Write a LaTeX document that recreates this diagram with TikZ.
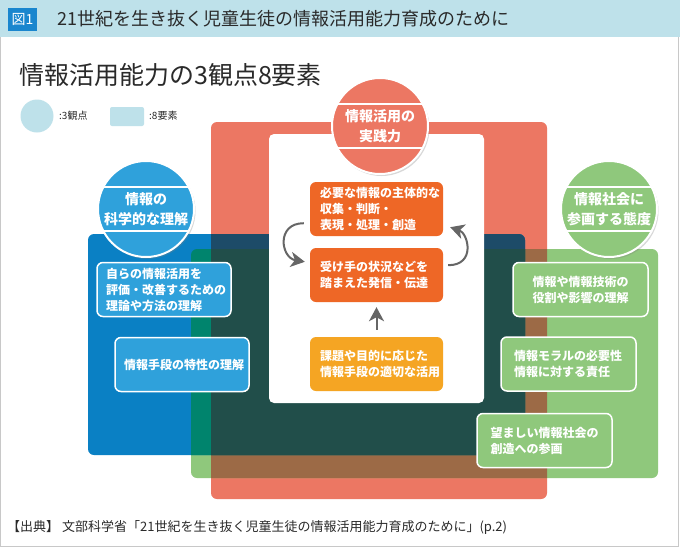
\documentclass[tikz,border=0pt]{standalone}
\usepackage{fontspec}
\setmainfont{Noto Sans CJK JP}
\usetikzlibrary{shadows,arrows.meta,calc}
\definecolor{hdr}{HTML}{BEE1EA}
\definecolor{fig}{HTML}{1A86CE}
\definecolor{txt}{HTML}{2A2A2A}
\definecolor{framec}{HTML}{C8C8C8}
\definecolor{cR}{HTML}{EC7763}
\definecolor{cB}{HTML}{0A80C4}
\definecolor{cG}{HTML}{8FC87C}
\definecolor{cRB}{HTML}{1D4B68}
\definecolor{cRG}{HTML}{9C6A46}
\definecolor{cBG}{HTML}{00846D}
\definecolor{cRBG}{HTML}{214E4A}
\definecolor{cLB}{HTML}{2FA1DB}
\definecolor{cOr}{HTML}{EE6726}
\definecolor{cYe}{HTML}{F5A523}
\definecolor{arrc}{HTML}{666666}
\begin{document}
\begin{tikzpicture}[x=1pt,y=-1pt,
  circ/.style={circle, minimum size=96pt, inner sep=0pt, draw=white, line width=2pt,
    text=white, font=\fontsize{14}{20}\selectfont\bfseries, align=center,
    drop shadow={shadow xshift=1.5pt,shadow yshift=-2pt,opacity=0.3}},
  box/.style={rounded corners=6pt, text=white, font=\fontsize{12}{16}\selectfont\bfseries,
    inner sep=0pt, minimum height=54pt},
  obox/.style={box, fill=cOr, minimum width=133pt, text width=113pt},
  ybox/.style={box, fill=cYe, minimum width=133pt, text width=113pt},
  bbox/.style={box, fill=cLB, draw=white, line width=1.5pt, minimum width=134pt},
  gbox/.style={box, fill=cG, draw=white, line width=1.5pt, minimum width=135pt},
  arr/.style={draw=arrc, line width=2pt, -{Stealth[length=14pt,width=15pt,inset=4pt]}},
  chord/.style={draw=white, line width=1.2pt}
]
\useasboundingbox (0,0) rectangle (680,547);
\fill[white] (0,0) rectangle (680,547);
% header
\fill[hdr] (0,0) rectangle (680,37);
\draw[framec, line width=1pt] (0.5,37) -- (0.5,546.3) -- (678.3,546.3) -- (678.3,37);
\node[fill=fig, text=white, minimum width=29pt, minimum height=23pt, inner sep=0pt,
  font=\fontsize{14}{14}\selectfont] (fn) at (22.5,19) {図1};
\node[anchor=west, inner sep=0pt, text=txt, font=\fontsize{18}{18}\selectfont] (ht) at (57,19)
  {21世紀を生き抜く児童生徒の情報活用能力育成のために};
% main title
\node[anchor=west, inner sep=0pt, text=txt, font=\fontsize{25}{25}\selectfont] (mt) at (19,75)
  {情報活用能力の3観点8要素};
% legend
\node[circle, fill=hdr, minimum size=33pt, inner sep=0pt] (lc) at (37,116) {};
\node[anchor=west, inner sep=0pt, text=txt, font=\fontsize{10}{10}\selectfont] (lct) at (59,116) {:3観点};
\node[fill=hdr, rounded corners=2pt, minimum width=34pt, minimum height=19pt, inner sep=0pt] (lr) at (127,116.5) {};
\node[anchor=west, inner sep=0pt, text=txt, font=\fontsize{10}{10}\selectfont] (lrt) at (149,116) {:8要素};
% big areas
\fill[cR, rounded corners=6pt] (211,122) rectangle (547,499);
\fill[cG, rounded corners=6pt] (191,249) rectangle (658,478);
\fill[cB, rounded corners=6pt] (88,234) rectangle (525,455);
\begin{scope}
  \clip[rounded corners=6pt] (211,122) rectangle (547,499);
  \fill[cRG, rounded corners=6pt] (191,249) rectangle (658,478);
\end{scope}
\begin{scope}
  \clip[rounded corners=6pt] (88,234) rectangle (525,455);
  \fill[cBG, rounded corners=6pt] (191,249) rectangle (658,478);
\end{scope}
\begin{scope}
  \clip[rounded corners=6pt] (211,122) rectangle (547,499);
  \fill[cRB, rounded corners=6pt] (88,234) rectangle (525,455);
\end{scope}
\begin{scope}
  \clip[rounded corners=6pt] (211,122) rectangle (547,499);
  \clip[rounded corners=6pt] (88,234) rectangle (525,455);
  \fill[cRBG, rounded corners=6pt] (191,249) rectangle (658,478);
\end{scope}
\fill[white, rounded corners=5pt] (269,134) rectangle (484,403);
% centre boxes
\node[obox, align=left] (o1) at (376.5,209) {必要な情報の主体的な\\収集・判断・\\表現・処理・創造};
\node[obox, align=left] (o2) at (376.5,275) {受け手の状況などを\\踏まえた発信・伝達};
\node[ybox, align=left] (o3) at (376.5,364) {課題や目的に応じた\\情報手段の適切な活用};
\draw[arr] ($(o1.south west)+(-6,-13)$) .. controls +(-28,0) and +(-24,-4) .. ($(o2.north west)+(-5,14)$);
\draw[arr] ($(o2.south east)+(5,-37)$) .. controls +(28,0) and +(18,6) .. ($(o1.south east)+(7,-9)$);
\draw[arr] ([yshift=7pt]o3.north) -- ([yshift=-5pt]o2.south);
% blue boxes
\node[bbox, text width=116pt, align=left] (b1) at (164,289.5) {自らの情報活用を\\評価・改善するための\\理論や方法の理解};
\node[bbox, text width=116pt, align=center] (b2) at (182,364.5) {情報手段の特性の理解};
% green boxes
\node[gbox, text width=110pt, align=center] (g1) at (580.5,289.5) {情報や情報技術の\\役割や影響の理解};
\node[gbox, text width=109pt, align=left] (g2) at (568.5,364) {情報モラルの必要性\\情報に対する責任};
\node[gbox, text width=108pt, align=left] (g3) at (544.5,440.5) {望ましい情報社会の\\創造への参画};
% circles
\node[circ, fill=cR] (cp) at (380,126) {情報活用の\\実践力};
\node[circ, fill=cLB] (cs) at (146,209) {情報の\\科学的な理解};
\node[circ, fill=cG] (ca) at (609,209) {情報社会に\\参画する態度};
\foreach \c in {cp,cs,ca}{
  \draw[chord] ($(\c)+(-42,-22)$) -- ($(\c)+(42,-22)$);
  \draw[chord] ($(\c)+(-42,22)$) -- ($(\c)+(42,22)$);
}
% footer
\node[anchor=west, inner sep=0pt, text=txt, font=\fontsize{13}{13}\selectfont] (src) at (7,527)
  {【出典】 文部科学省「21世紀を生き抜く児童生徒の情報活用能力育成のために」(p.2)};
\end{tikzpicture}
\end{document}
